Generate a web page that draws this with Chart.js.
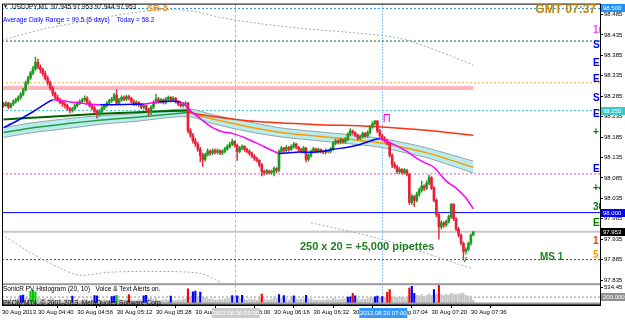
<!DOCTYPE html>
<html>
<head>
<meta charset="utf-8">
<title>USDJPY,M1</title>
<script src="https://cdn.jsdelivr.net/npm/chart.js@4.4.1/dist/chart.umd.min.js"></script>
<style>
  html, body { margin: 0; padding: 0; background: #fff; overflow: hidden; }
  canvas { display: block; }
</style>
</head>
<body>
<canvas id="chart" width="625" height="321"></canvas>
<script>
// USDJPY M1, 30 Aug 2013
// x values are minutes after midnight (266 = 04:26, one candle per minute)
const firstMinute = 266;

const opens = [
  98.266, 98.262, 98.268, 98.258, 98.266, 98.272, 98.276, 98.282, 98.290, 98.300,
  98.318, 98.330, 98.342, 98.352, 98.368, 98.356, 98.350, 98.340, 98.328, 98.318,
  98.305, 98.292, 98.282, 98.276, 98.270, 98.266, 98.262, 98.255, 98.250, 98.254,
  98.262, 98.268, 98.272, 98.276, 98.280, 98.270, 98.262, 98.256, 98.248, 98.240,
  98.248, 98.256, 98.262, 98.268, 98.274, 98.278, 98.288, 98.268, 98.276, 98.282,
  98.278, 98.284, 98.280, 98.272, 98.266, 98.270, 98.264, 98.258, 98.262, 98.252,
  98.244, 98.258, 98.270, 98.278, 98.272, 98.276, 98.270, 98.278, 98.282, 98.276,
  98.280, 98.272, 98.266, 98.262, 98.266, 98.268, 98.200, 98.190, 98.176, 98.168,
  98.155, 98.140, 98.130, 98.142, 98.150, 98.146, 98.152, 98.148, 98.152, 98.146,
  98.150, 98.156, 98.162, 98.168, 98.174, 98.165, 98.150, 98.158, 98.162, 98.155,
  98.150, 98.145, 98.138, 98.132, 98.128, 98.118, 98.100, 98.098, 98.102, 98.098,
  98.100, 98.108, 98.104, 98.150, 98.158, 98.152, 98.160, 98.155, 98.162, 98.168,
  98.160, 98.155, 98.150, 98.158, 98.130, 98.140, 98.150, 98.156, 98.150, 98.155,
  98.150, 98.148, 98.152, 98.150, 98.156, 98.170, 98.176, 98.172, 98.178, 98.174,
  98.180, 98.192, 98.200, 98.196, 98.190, 98.182, 98.186, 98.194, 98.188, 98.196,
  98.210, 98.218, 98.224, 98.200, 98.188, 98.180, 98.176, 98.170, 98.140, 98.118,
  98.112, 98.100, 98.106, 98.098, 98.104, 98.094, 98.025, 98.040, 98.030, 98.045,
  98.055, 98.065, 98.060, 98.072, 98.086, 98.060, 98.030, 97.995, 97.965, 97.975,
  97.970, 97.978, 97.990, 98.020, 97.985, 97.960, 97.945, 97.925, 97.905, 97.910,
  97.925, 97.945
];
const highs = [
  98.270, 98.272, 98.270, 98.268, 98.276, 98.280, 98.286, 98.294, 98.304, 98.322,
  98.334, 98.346, 98.358, 98.381, 98.376, 98.362, 98.354, 98.346, 98.334, 98.322,
  98.310, 98.296, 98.288, 98.280, 98.274, 98.270, 98.266, 98.258, 98.258, 98.266,
  98.272, 98.276, 98.280, 98.286, 98.284, 98.274, 98.266, 98.260, 98.252, 98.252,
  98.260, 98.266, 98.272, 98.278, 98.282, 98.292, 98.301, 98.280, 98.286, 98.286,
  98.288, 98.288, 98.282, 98.276, 98.274, 98.272, 98.266, 98.266, 98.264, 98.256,
  98.262, 98.274, 98.290, 98.282, 98.280, 98.278, 98.282, 98.286, 98.284, 98.284,
  98.282, 98.274, 98.270, 98.270, 98.272, 98.270, 98.206, 98.194, 98.182, 98.172,
  98.160, 98.146, 98.146, 98.156, 98.154, 98.156, 98.156, 98.156, 98.154, 98.154,
  98.160, 98.166, 98.172, 98.180, 98.176, 98.168, 98.162, 98.166, 98.164, 98.158,
  98.154, 98.148, 98.142, 98.136, 98.130, 98.120, 98.104, 98.106, 98.104, 98.104,
  98.112, 98.110, 98.154, 98.162, 98.160, 98.164, 98.162, 98.166, 98.172, 98.170,
  98.162, 98.158, 98.162, 98.160, 98.144, 98.154, 98.160, 98.158, 98.158, 98.156,
  98.152, 98.156, 98.154, 98.160, 98.174, 98.180, 98.178, 98.182, 98.180, 98.184,
  98.196, 98.206, 98.202, 98.198, 98.192, 98.190, 98.198, 98.196, 98.200, 98.214,
  98.222, 98.226, 98.226, 98.204, 98.192, 98.186, 98.180, 98.172, 98.144, 98.124,
  98.116, 98.110, 98.108, 98.108, 98.106, 98.096, 98.044, 98.042, 98.050, 98.060,
  98.077, 98.068, 98.078, 98.092, 98.088, 98.064, 98.034, 98.000, 97.980, 97.978,
  97.982, 97.994, 98.022, 98.022, 97.988, 97.964, 97.948, 97.928, 97.914, 97.928,
  97.948, 97.953
];
const lows = [
  98.258, 98.260, 98.254, 98.256, 98.262, 98.268, 98.272, 98.278, 98.286, 98.298,
  98.314, 98.326, 98.338, 98.348, 98.352, 98.342, 98.334, 98.324, 98.312, 98.300,
  98.286, 98.278, 98.272, 98.266, 98.260, 98.256, 98.250, 98.244, 98.246, 98.252,
  98.258, 98.264, 98.268, 98.272, 98.266, 98.258, 98.252, 98.244, 98.232, 98.236,
  98.244, 98.252, 98.258, 98.264, 98.270, 98.274, 98.264, 98.264, 98.272, 98.274,
  98.274, 98.276, 98.268, 98.262, 98.262, 98.260, 98.254, 98.254, 98.248, 98.236,
  98.240, 98.254, 98.266, 98.268, 98.268, 98.266, 98.266, 98.274, 98.272, 98.272,
  98.268, 98.262, 98.258, 98.258, 98.262, 98.195, 98.184, 98.170, 98.162, 98.150,
  98.125, 98.113, 98.126, 98.138, 98.140, 98.142, 98.144, 98.144, 98.142, 98.142,
  98.146, 98.152, 98.158, 98.164, 98.160, 98.128, 98.146, 98.154, 98.150, 98.146,
  98.140, 98.134, 98.128, 98.124, 98.112, 98.090, 98.092, 98.094, 98.094, 98.094,
  98.090, 98.098, 98.100, 98.146, 98.148, 98.148, 98.150, 98.152, 98.158, 98.156,
  98.150, 98.146, 98.146, 98.124, 98.126, 98.136, 98.146, 98.146, 98.146, 98.146,
  98.144, 98.144, 98.146, 98.146, 98.152, 98.166, 98.168, 98.168, 98.170, 98.170,
  98.176, 98.188, 98.192, 98.186, 98.178, 98.178, 98.182, 98.184, 98.184, 98.192,
  98.206, 98.214, 98.196, 98.184, 98.176, 98.172, 98.166, 98.136, 98.110, 98.108,
  98.096, 98.096, 98.094, 98.094, 98.090, 98.020, 98.020, 98.015, 98.026, 98.040,
  98.050, 98.054, 98.056, 98.068, 98.056, 98.026, 97.990, 97.935, 97.960, 97.964,
  97.966, 97.974, 97.986, 97.980, 97.956, 97.940, 97.920, 97.890, 97.898, 97.906,
  97.920, 97.944
];
const closes = [
  98.262, 98.268, 98.258, 98.266, 98.272, 98.276, 98.282, 98.290, 98.300, 98.318,
  98.330, 98.342, 98.352, 98.368, 98.356, 98.350, 98.340, 98.328, 98.318, 98.305,
  98.292, 98.282, 98.276, 98.270, 98.266, 98.262, 98.255, 98.250, 98.254, 98.262,
  98.268, 98.272, 98.276, 98.280, 98.270, 98.262, 98.256, 98.248, 98.240, 98.248,
  98.256, 98.262, 98.268, 98.274, 98.278, 98.288, 98.268, 98.276, 98.282, 98.278,
  98.284, 98.280, 98.272, 98.266, 98.270, 98.264, 98.258, 98.262, 98.252, 98.244,
  98.258, 98.270, 98.278, 98.272, 98.276, 98.270, 98.278, 98.282, 98.276, 98.280,
  98.272, 98.266, 98.262, 98.266, 98.268, 98.200, 98.190, 98.176, 98.168, 98.155,
  98.140, 98.130, 98.142, 98.150, 98.146, 98.152, 98.148, 98.152, 98.146, 98.150,
  98.156, 98.162, 98.168, 98.174, 98.165, 98.150, 98.158, 98.162, 98.155, 98.150,
  98.145, 98.138, 98.132, 98.128, 98.118, 98.100, 98.098, 98.102, 98.098, 98.100,
  98.108, 98.104, 98.150, 98.158, 98.152, 98.160, 98.155, 98.162, 98.168, 98.160,
  98.155, 98.150, 98.158, 98.130, 98.140, 98.150, 98.156, 98.150, 98.155, 98.150,
  98.148, 98.152, 98.150, 98.156, 98.170, 98.176, 98.172, 98.178, 98.174, 98.180,
  98.192, 98.200, 98.196, 98.190, 98.182, 98.186, 98.194, 98.188, 98.196, 98.210,
  98.218, 98.224, 98.200, 98.188, 98.180, 98.176, 98.170, 98.140, 98.118, 98.112,
  98.100, 98.106, 98.098, 98.104, 98.094, 98.025, 98.040, 98.030, 98.045, 98.055,
  98.065, 98.060, 98.072, 98.086, 98.060, 98.030, 97.995, 97.965, 97.975, 97.970,
  97.978, 97.990, 98.020, 97.985, 97.960, 97.945, 97.925, 97.905, 97.910, 97.925,
  97.945, 97.953
];

// SonicR PV histogram (tick volume) and the bars it paints in colour
const volumes = [
  120, 90, 110, 140, 100, 130, 160, 250, 270, 170,
  150, 400, 430, 380, 180, 140, 120, 150, 110, 130,
  160, 100, 90, 120, 80, 110, 130, 100, 230, 90,
  120, 80, 100, 140, 110, 90, 120, 250, 240, 110,
  90, 130, 100, 80, 220, 230, 260, 120, 100, 90,
  140, 280, 110, 90, 80, 120, 100, 240, 260, 150,
  170, 130, 180, 100, 90, 110, 120, 90, 230, 100,
  80, 110, 90, 120, 140, 480, 200, 380, 400, 220,
  370, 210, 180, 150, 120, 140, 100, 90, 120, 110,
  130, 150, 170, 250, 160, 240, 150, 260, 120, 100,
  140, 110, 130, 90, 160, 300, 140, 110, 90, 120,
  180, 150, 280, 170, 250, 140, 110, 160, 240, 130,
  110, 140, 120, 260, 150, 130, 110, 90, 100, 80,
  110, 90, 120, 100, 160, 140, 110, 130, 120, 150,
  200, 210, 330, 240, 130, 110, 140, 120, 150, 180,
  170, 210, 230, 190, 220, 200, 360, 450, 230, 200,
  180, 210, 190, 170, 200, 500, 560, 330, 260, 240,
  280, 220, 260, 300, 270, 450, 290, 600, 280, 250,
  300, 270, 330, 310, 280, 300, 320, 340, 260, 230,
  200, 90
];
const volBlue = [7, 8, 28, 37, 38, 44, 45, 57, 58, 68, 77, 78, 80, 93, 95, 97, 112, 114, 118, 123, 140, 141, 143, 151, 152, 154, 166, 167, 175];
const volRed = [51, 75, 105, 142, 156, 157, 165, 177];
const volGreen = [11, 12, 13, 46];
const volLevel = 200;
const volTicks = [534.45];

// fast MA, blue while rising, magenta while falling
const maMinutes = [266, 271, 278, 283, 286, 293, 300, 305, 323, 329, 338, 342, 346, 351, 355, 359, 365, 370, 376,
  378, 385, 392, 396, 400, 406, 411, 416, 419, 424, 430, 434, 437, 441, 446, 450, 454, 457];
const maValues = [98.208, 98.223, 98.247, 98.266, 98.276, 98.271, 98.266, 98.264, 98.266, 98.271, 98.271, 98.249,
  98.230, 98.208, 98.198, 98.194, 98.181, 98.167, 98.150, 98.145, 98.148, 98.148, 98.150, 98.155, 98.160, 98.167,
  98.177, 98.181, 98.169, 98.150, 98.133, 98.123, 98.111, 98.077, 98.060, 98.036, 98.009];
const maTrend = ['u', 'u', 'u', 'u', 'd', 'd', 'd', 'u', 'd', 'u', 'd', 'd', 'd', 'd', 'd', 'd', 'd', 'd', 'd',
  'u', 'u', 'u', 'u', 'u', 'u', 'u', 'u', 'd', 'd', 'd', 'd', 'd', 'd', 'd', 'd', 'd', 'd'];

// slow MA: dark green, then red once price fell below it
const slowGreenMinutes = [266, 285, 305, 326, 342];
const slowGreenValues = [98.228, 98.235, 98.242, 98.247, 98.250];
const slowRedMinutes = [341, 346, 365, 392, 416, 439, 457];
const slowRedValues = [98.247, 98.240, 98.225, 98.216, 98.211, 98.201, 98.189];

// ribbon (upper / lower edge and centre line)
const bandMinutes = [266, 278, 292, 305, 319, 341, 351, 365, 378, 392, 406, 419, 432, 439, 457];
const bandUpper = [98.208, 98.220, 98.230, 98.237, 98.242, 98.254, 98.240, 98.223, 98.208, 98.199, 98.191, 98.182, 98.167, 98.157, 98.126];
const bandLower = [98.184, 98.196, 98.206, 98.216, 98.223, 98.235, 98.218, 98.199, 98.186, 98.177, 98.169, 98.160, 98.143, 98.133, 98.097];
const bandMid = [98.196, 98.208, 98.218, 98.226, 98.233, 98.245, 98.229, 98.211, 98.197, 98.188, 98.180, 98.171, 98.155, 98.145, 98.111];
const bandTurn = 341;

// dotted grey envelope
const envUpperMinutes = [265.4, 281, 294, 309, 326, 336, 346, 354, 370, 387, 407, 427, 443, 457];
const envUpperValues = [98.422, 98.448, 98.463, 98.480, 98.495, 98.497, 98.490, 98.478, 98.463, 98.451, 98.441, 98.427, 98.395, 98.361];
const envLowerMinutes = [265.4, 277, 289, 297, 309, 326, 346, 355, 360];
const envLowerValues = [97.946, 97.902, 97.864, 97.847, 97.854, 97.856, 97.851, 97.827, 97.810];
const envLower2Minutes = [391, 419, 456];
const envLower2Values = [97.975, 97.936, 97.864];

// horizontal levels
const levelSR3 = 98.500;
const levelR1 = 98.420;
const levelR2 = 98.318;
const pinkZone = 98.305;
const pinkZoneEnd = 457;
const levelPivot = 98.250;
const levelS1 = 98.095;
const levelRound = 98.000;
const bidPrice = 97.953;
const levelMS1 = 97.885;

// right-edge object labels (cut by the price scale)
const edgeTexts = ['1m', 'SL', 'E', 'E', 'SL', 'E', '+', 'E', '+4', '36', 'E', '1', '5'];
const edgePrices = [98.446, 98.410, 98.366, 98.327, 98.279, 98.240, 98.196, 98.106, 98.060, 98.014, 97.975, 97.929, 97.895];

// axes
const priceTicks = [98.485, 98.435, 98.385, 98.335, 98.285, 98.235, 98.185, 98.135, 98.085, 98.035, 97.985, 97.935, 97.885, 97.835];
const tickMinutes = [265.4, 280, 296, 312, 328, 344, 360, 376, 392, 408, 424, 440, 456];
const tickLabels = ['30 Aug 2013', '30 Aug 04:40', '30 Aug 04:56', '30 Aug 05:12', '30 Aug 05:28', '30 Aug 05:44',
  '30 Aug 06:00', '30 Aug 06:16', '30 Aug 06:32', '30 Aug 06:48', '30 Aug 07:04', '30 Aug 07:20', '30 Aug 07:36'];
const separatorMinutes = [360, 420];
const separatorLabels = ['2013.08.30 06:00', '2013.08.30 07:00'];

const xMin = 265.4, xMax = 508.5;
const FONT = "'Liberation Sans', Arial, sans-serif";

Chart.defaults.font.family = FONT;
Chart.defaults.font.size = 6;
Chart.defaults.color = '#000';

const pts = (xs, ys) => xs.map((m, i) => ({ x: m, y: ys[i] }));
const flat = (p, x0 = xMin, x1 = xMax) => [{ x: x0, y: p }, { x: x1, y: p }];

const candleMinutes = opens.map((_, i) => firstMinute + i);
const candleColors = closes.map((c, i) => (c >= opens[i] ? '#1f9a1f' : '#e8213a'));
const volColors = volumes.map((_, i) =>
  volBlue.includes(i) ? '#0000ff' : volRed.includes(i) ? '#ff0000' : volGreen.includes(i) ? '#00c800' : '#c4c4c4');

function level(p, color, width, dash, order, x1) {
  return { type: 'line', data: flat(p, xMin, x1 === undefined ? xMax : x1), borderColor: color, borderWidth: width,
    borderDash: dash, pointRadius: 0, order: order };
}
function curve(xs, ys, color, width, dash, order) {
  return { type: 'line', data: pts(xs, ys), borderColor: color, borderWidth: width, borderDash: dash || [],
    pointRadius: 0, tension: 0.3, order: order };
}

const midGreenIdx = bandMinutes.map((m, i) => i).filter(i => bandMinutes[i] <= bandTurn);
const midOrangeIdx = bandMinutes.map((m, i) => i).filter(i => bandMinutes[i] >= bandTurn);

const datasets = [
  level(levelSR3, '#1e90ff', 1, [2, 2], 60),
  level(levelR1, '#008000', 1, [2, 2], 60),
  level(levelR2, '#ffd28a', 2, [2, 2], 60),
  level(pinkZone, '#ffb6c1', 4, [], 60, pinkZoneEnd),
  level(levelPivot, '#40d0d0', 1, [2, 2], 60),
  level(levelS1, '#ee82ee', 1.5, [2, 2], 60),
  level(levelRound, '#0000ff', 1, [], 60),
  level(bidPrice, '#c8c8c8', 2, [], 60),
  level(levelMS1, '#008000', 1, [2, 2], 60),
  curve(envUpperMinutes, envUpperValues, '#a8a8a8', 1, [2, 2], 55),
  curve(envLowerMinutes, envLowerValues, '#a8a8a8', 1, [2, 2], 55),
  curve(envLower2Minutes, envLower2Values, '#a8a8a8', 1, [2, 2], 55),
  Object.assign(curve(bandMinutes, bandUpper, '#9aa0a0', 1, [], 50), { fill: '+1', backgroundColor: '#b6eef0' }),
  curve(bandMinutes, bandLower, '#9aa0a0', 1, [], 49),
  curve(midGreenIdx.map(i => bandMinutes[i]), midGreenIdx.map(i => bandMid[i]), '#2a9a3a', 1.5, [], 48),
  curve(midOrangeIdx.map(i => bandMinutes[i]), midOrangeIdx.map(i => bandMid[i]), '#ff9900', 1.5, [], 48),
  curve(slowGreenMinutes, slowGreenValues, '#006400', 2, [], 45),
  curve(slowRedMinutes, slowRedValues, '#ff3010', 1.5, [], 45),
  { type: 'line', yAxisID: 'yv', data: flat(volLevel), borderColor: '#909090', borderWidth: 1, borderDash: [2, 2],
    pointRadius: 0, order: 41 },
  { type: 'bar', yAxisID: 'yv', data: candleMinutes.map((m, i) => ({ x: m, y: [0, volumes[i]] })),
    backgroundColor: volColors, barThickness: 1.5, grouped: false, order: 40 },
  { type: 'bar', data: candleMinutes.map((m, i) => ({ x: m, y: [lows[i], highs[i]] })),
    backgroundColor: candleColors, barThickness: 0.8, grouped: false, order: 30 },
  { type: 'bar', data: candleMinutes.map((m, i) => ({ x: m, y: [opens[i], closes[i]] })),
    backgroundColor: candleColors, barThickness: 2, minBarLength: 1, grouped: false, order: 29 },
  { type: 'line', data: pts(maMinutes, maValues), borderWidth: 1.5, pointRadius: 0, tension: 0.3, order: 10,
    borderColor: '#0000ff',
    segment: { borderColor: c => (maTrend[c.p0DataIndex] === 'u' ? '#0000ff' : '#ff00ff') } }
];

const overlay = {
  id: 'mtOverlay',
  beforeDatasetsDraw(chart) {
    const { ctx, chartArea: a, scales: { x } } = chart;
    ctx.save();
    ctx.lineWidth = 1;
    separatorMinutes.forEach((m, k) => {
      const px = Math.round(x.getPixelForValue(m)) + 0.5;
      ctx.strokeStyle = k === 0 ? '#b8b8b8' : '#1e90ff';
      ctx.setLineDash(k === 0 ? [3, 2] : [1, 2]);
      ctx.beginPath(); ctx.moveTo(px, a.top); ctx.lineTo(px, a.bottom); ctx.stroke();
    });
    ctx.restore();
  },
  afterDraw(chart) {
    const { ctx, chartArea: a, scales: { x, y, yv } } = chart;
    const text = (s, px, py, font, color, align) => {
      ctx.font = font; ctx.fillStyle = color; ctx.textAlign = align || 'left'; ctx.textBaseline = 'middle';
      ctx.fillText(s, px, py);
    };
    ctx.save();

    // sub window borders and outer frame
    ctx.fillStyle = '#9c9c9c';
    ctx.fillRect(a.left, yv.top, a.right - a.left, 2);
    ctx.fillRect(a.left, yv.bottom - 2.5, a.right - a.left, 2.5);
    ctx.strokeStyle = '#000'; ctx.lineWidth = 1; ctx.setLineDash([]);
    ctx.strokeRect(a.left + 0.5, a.top - 0.5, a.right - a.left, a.bottom - a.top + 0.5);

    // header texts
    text('\u25BC', 3, 7, `5px ${FONT}`, '#000');
    text('USDJPY,M1  97.945 97.953 97.944 97.953', 12, 7, `6.5px ${FONT}`, '#000');
    text('SR-3', x.getPixelForValue(324.3), y.getPixelForValue(levelSR3), `bold 9px ${FONT}`, '#ff8c00');
    text('Average Daily Range = 99.5 (5 days)    Today = 58.2', 3, 20, `6.5px ${FONT}`, '#0000ff');
    text('GMT 07:37', 596, 10, `bold 12px ${FONT}`, '#b8860b', 'right');

    // chart objects
    text('250 x 20 = +5,000 pipettes', x.getPixelForValue(386.5), y.getPixelForValue(97.915), `bold 11px ${FONT}`, '#1f7f1f');
    text('MS 1', x.getPixelForValue(484.1), y.getPixelForValue(97.891), `bold 10px ${FONT}`, '#1f7f1f');
    text('\u03A0', x.getPixelForValue(421.8), y.getPixelForValue(98.229), `11px ${FONT}`, '#ff00ff', 'center');
    text('V', x.getPixelForValue(453.4), y.getPixelForValue(97.884), `bold 7px ${FONT}`, '#1f7f1f', 'center');

    // right-edge labels clipped by the price scale
    ctx.save();
    ctx.beginPath(); ctx.rect(a.left, a.top, a.right - a.left, y.bottom - a.top); ctx.clip();
    const edgeColors = ['#ff44ff', '#0000ff', '#0000ff', '#0000ff', '#0000ff', '#0000ff', '#008000', '#0000ff',
      '#008000', '#008000', '#008000', '#ff3300', '#ff9900'];
    edgeTexts.forEach((s, i) => {
      text(s, a.right - 7, y.getPixelForValue(edgePrices[i]), `bold 10px ${FONT}`, edgeColors[i]);
    });
    ctx.restore();

    // sub window captions
    text('SonicR PV Histogram (20, 10)   Voice & Text Alerts on.', 3, yv.top + 6, `6.5px ${FONT}`, '#000');
    text('PKOM MT4, \u00A9 2001-2013, MetaQuotes Software Corp.', 3, yv.bottom - 1.5, `6.5px ${FONT}`, '#000');

    // value boxes on the scales
    const box = (val, scale, bg, label) => {
      const py = Math.round(scale.getPixelForValue(val));
      ctx.fillStyle = bg; ctx.fillRect(a.right + 1, py - 4, 24, 8);
      text(label, a.right + 3, py, `6px ${FONT}`, '#fff');
    };
    box(levelSR3, y, '#1e90ff', '98.500');
    box(levelPivot, y, '#3cc8c8', '98.250');
    box(levelRound, y, '#0000ff', '98.000');
    box(bidPrice, y, '#000000', '97.953');
    box(volLevel, yv, '#909090', '200.000');

    // period separator time boxes on the time scale
    separatorMinutes.forEach((m, k) => {
      const px = x.getPixelForValue(m);
      ctx.fillStyle = k === 0 ? '#cccccc' : '#3399ff';
      ctx.fillRect(px - 23, a.bottom + 3, 48, 10);
      text(separatorLabels[k], px + 1, a.bottom + 8, `6px ${FONT}`, '#fff', 'center');
    });
    ctx.restore();
  }
};

new Chart(document.getElementById('chart'), {
  type: 'line',
  data: { datasets },
  options: {
    responsive: false,
    animation: false,
    events: [],
    layout: { padding: { left: 2, top: 2, right: 0, bottom: 0 } },
    plugins: { legend: { display: false }, tooltip: { enabled: false } },
    scales: {
      x: {
        type: 'linear', min: xMin, max: xMax, offset: false,
        grid: { drawOnChartArea: false, drawTicks: true, tickLength: 3, color: '#000' },
        border: { display: true, color: '#000' },
        ticks: { autoSkip: false, maxRotation: 0, align: 'start', padding: 1, font: { size: 6 }, color: '#000',
          callback: (v, i) => tickLabels[i] },
        afterBuildTicks: s => { s.ticks = tickMinutes.map(v => ({ value: v })); },
        afterFit: s => { s.height = 16; }
      },
      y: {
        type: 'linear', position: 'right', stack: 'panes', stackWeight: 281, min: 97.8272, max: 98.5093,
        grid: { drawOnChartArea: false, tickLength: 3, color: '#000' },
        border: { display: true, color: '#000' },
        ticks: { autoSkip: false, padding: 1, font: { size: 6 }, color: '#000', callback: v => v.toFixed(3) },
        afterBuildTicks: s => { s.ticks = priceTicks.map(v => ({ value: v })); },
        afterFit: s => { s.width = 25; }
      },
      yv: {
        type: 'linear', position: 'right', stack: 'panes', stackWeight: 22, min: -67, max: 668,
        grid: { drawOnChartArea: false, tickLength: 3, color: '#000' },
        border: { display: true, color: '#000' },
        ticks: { autoSkip: false, padding: 1, font: { size: 6 }, color: '#000', callback: v => v.toFixed(2) },
        afterBuildTicks: s => { s.ticks = volTicks.map(v => ({ value: v })); },
        afterFit: s => { s.width = 25; }
      }
    }
  },
  plugins: [overlay]
});
</script>
</body>
</html>
